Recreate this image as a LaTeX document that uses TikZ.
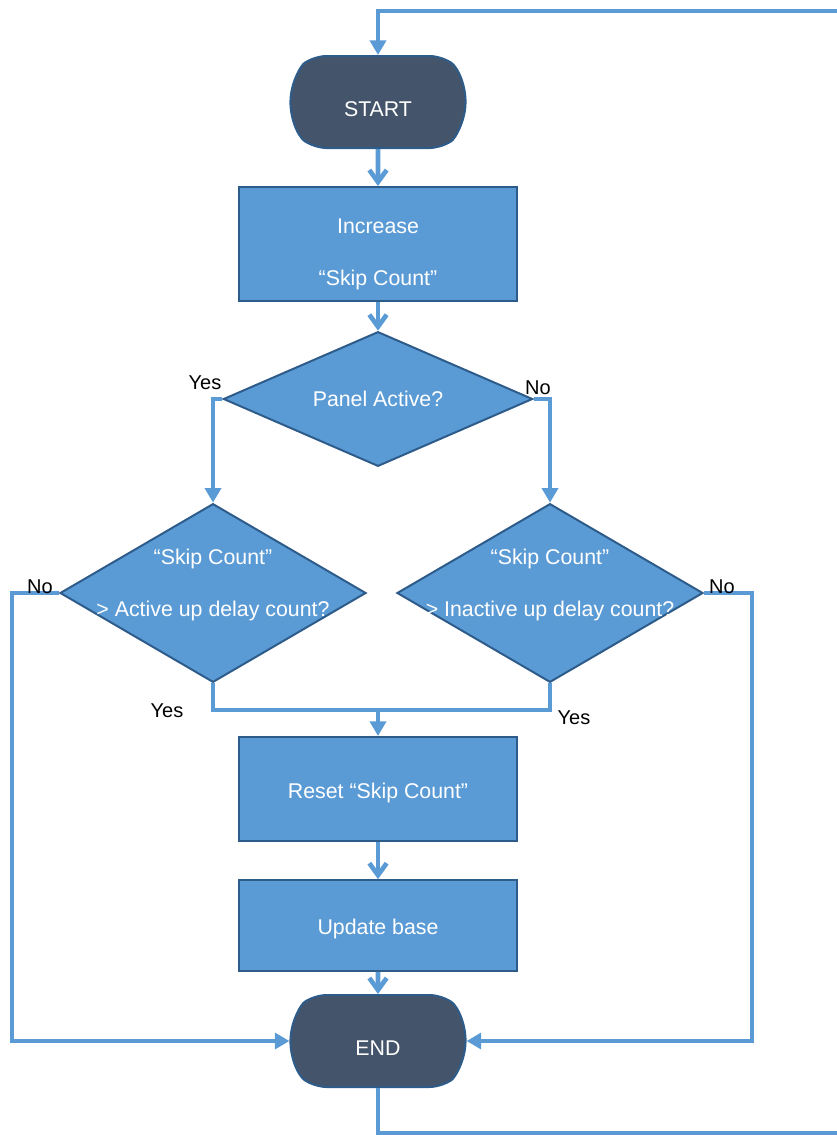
\documentclass[tikz,border=0pt]{standalone}
\usepackage{fontspec}
\setmainfont{Liberation Sans}
\usetikzlibrary{shapes.geometric,shapes.misc,arrows.meta}
\definecolor{boxblue}{HTML}{5B9BD5}
\definecolor{edgeblue}{HTML}{2E5C8A}
\definecolor{slate}{HTML}{44546A}

\begin{document}
\begin{tikzpicture}[x=0.75pt,y=-0.75pt,
    terminal/.style={rounded rectangle,rounded rectangle arc length=110,rounded corners=9pt,draw=edgeblue,line width=1.5pt,fill=slate,text=white,minimum width=138pt,minimum height=69pt,text height=25pt,text depth=4pt,font=\fontsize{16}{19}\selectfont},
    process/.style={rectangle,draw=edgeblue,line width=1.5pt,fill=boxblue,text=white,minimum width=209pt,align=center,font=\fontsize{16}{39}\selectfont},
    decision/.style={diamond,draw=edgeblue,line width=1.5pt,fill=boxblue,text=white,inner sep=0pt,align=center,font=\fontsize{16}{39}\selectfont},
    flow/.style={draw=boxblue,line width=3.5pt},
    tri/.style={flow,-{Triangle[length=11pt,width=12pt]}},
    barb/.style={flow,-{Straight Barb[length=9pt,width=13pt]}},
    lbl/.style={font=\fontsize{15}{18}\selectfont}]
            \useasboundingbox (0,0) rectangle (837,1135);
            % shapes
            \node[terminal] (start) at (378,102) {START};
            \node[process,minimum height=85.5pt] (inc) at (378,244) {\rule{0pt}{26.7pt}Increase\\``Skip Count''};
            \node[decision,aspect=2.3,minimum width=232pt,minimum height=101pt] (panel) at (378,399) {Panel Active?};
            \node[decision,minimum width=229.5pt,minimum height=134pt] (ldec) at (213,593) {\makebox[0pt]{``Skip Count''}\\\makebox[0pt]{> Active up delay count?}\rule[-15.5pt]{0pt}{1pt}};
            \node[decision,minimum width=229.5pt,minimum height=134pt] (rdec) at (550,593) {\makebox[0pt]{``Skip Count''}\\\makebox[0pt]{> Inactive up delay count?}\rule[-15.5pt]{0pt}{1pt}};
            \node[process,minimum height=78pt,text height=17.7pt,text depth=4pt] (reset) at (378,789) {Reset ``Skip Count''};
            \node[process,minimum height=68pt,text height=17.7pt,text depth=4pt] (upd) at (378,925.5) {Update base};
            \node[terminal] (endn) at (378,1041) {END};
            % free ends
            \coordinate (lno) at (12,593);
            \coordinate (rno) at (752,593);
            \coordinate (join) at (378,710);
            \coordinate (loopb) at (880,1133);
            \coordinate (loopt) at (880,11);
            % connectors
            \draw[tri] (endn.south) |- (loopb) -- (loopt) -| (start.north);
            \draw[barb] (start) -- (inc);
            \draw[barb] (inc) -- (panel);
            \draw[tri] (panel.west) -| (ldec.north);
            \draw[tri] (panel.east) -| (rdec.north);
            \draw[tri] (ldec.west) -- (lno) |- (endn.west);
            \draw[tri] (rdec.east) -- (rno) |- (endn.east);
            \draw[flow] (ldec.south) |- (join);
            \draw[flow] (rdec.south) |- (join);
            \draw[tri] (join) -- (reset);
            \draw[barb] (reset) -- (upd);
            \draw[barb] (upd) -- (endn);
            % labels
            \node[lbl] (yes1) at (205,383) {Yes};
            \node[lbl] (no1) at (538,388) {No};
            \node[lbl] (no2) at (40,587) {No};
            \node[lbl] (no3) at (722,587) {No};
            \node[lbl] (yes2) at (167,711) {Yes};
            \node[lbl] (yes3) at (574,718) {Yes};
        \end{tikzpicture}
\end{document}
